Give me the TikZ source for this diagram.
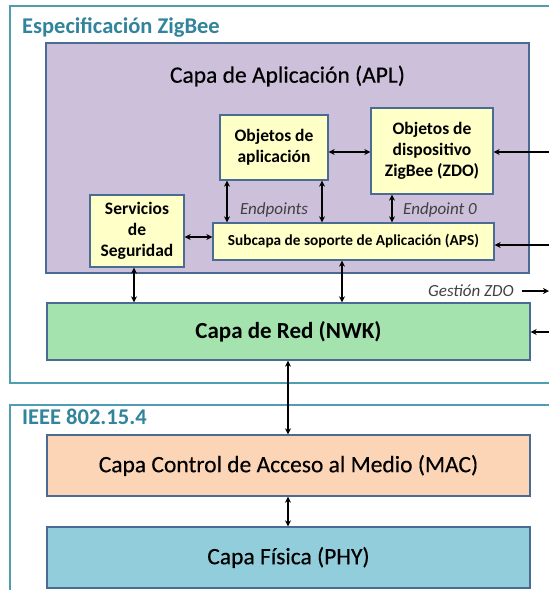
\documentclass[tikz,border=0pt]{standalone}
\usepackage{fontspec}
\setmainfont{Carlito}
\newfontfamily\layerfont{Carlito}[FakeBold=0.35]
\usetikzlibrary{arrows.meta}
\definecolor{frameteal}{HTML}{4E9DB3}
\definecolor{titleteal}{HTML}{31849B}
\definecolor{edge}{HTML}{4A6B94}
\definecolor{aplfill}{HTML}{CCC0DA}
\definecolor{boxfill}{HTML}{FFFFC8}
\definecolor{nwkfill}{HTML}{A5E3AE}
\definecolor{macfill}{HTML}{FBD5B5}
\definecolor{phyfill}{HTML}{92CDDC}
\tikzset{
  layer/.style={draw=edge, line width=1.4pt, minimum width=483pt, inner sep=0pt,
    font=\fontsize{23.5}{28}\selectfont\layerfont},
  subbox/.style={draw=edge, line width=1.3pt, fill=boxfill, inner sep=0pt, align=center,
    font=\fontsize{17.5}{21}\selectfont\bfseries},
  frame/.style={draw=frameteal, line width=1.3pt},
  link/.style={line width=1.5pt, {Stealth[length=6pt,width=6pt]}-{Stealth[length=6pt,width=6pt]}},
  inarrow/.style={line width=1.5pt, -{Stealth[length=6pt,width=6pt]}},
  tag/.style={font=\fontsize{17}{20}\selectfont\itshape, text=black!75, inner sep=0pt},
  heading/.style={font=\fontsize{22.5}{26}\selectfont\bfseries, text=titleteal, inner sep=0pt, anchor=west}
}
\begin{document}
\begin{tikzpicture}[x=1pt,y=-1pt]
\useasboundingbox (0,0) rectangle (549,590);
\begin{scope}
\clip (0,0) rectangle (549,590);
% outer specification frames
\draw[frame] (10,6) rectangle (570,383);
\draw[frame] (10,405) rectangle (570,610);
\node[heading] (zbtitle) at (22,27) {Especificación ZigBee};
\node[heading] (ieeetitle) at (22,417) {IEEE 802.15.4};

% application layer
\node[layer, fill=aplfill, minimum height=230pt] (apl) at (287.5,158) {};
\node[inner sep=0pt, font=\fontsize{23.5}{28}\selectfont\layerfont] (apltitle) at (287.5,76) {Capa de Aplicación (APL)};

\node[subbox, minimum width=108pt, minimum height=65pt] (obj) at (274,147.5) {Objetos de\\aplicación};
\node[subbox, minimum width=122pt, minimum height=86pt] (zdo) at (432,151) {Objetos de\\dispositivo\\ZigBee (ZDO)};
\node[subbox, minimum width=94pt, minimum height=72pt] (sec) at (137,231) {Servicios\\de\\Seguridad};
\node[subbox, minimum width=281pt, minimum height=37pt, font=\fontsize{15.3}{18}\selectfont\bfseries] (aps) at (353.5,241.5) {Subcapa de soporte de Aplicación (APS)};

% network, MAC and physical layers
\node[layer, fill=nwkfill, minimum height=57pt, font=\fontsize{23}{28}\selectfont\bfseries] (nwk) at (288.5,331.5) {Capa de Red (NWK)};
\node[layer, fill=macfill, minimum height=61pt] (mac) at (288.5,465.5) {Capa Control de Acceso al Medio (MAC)};
\node[layer, fill=phyfill, minimum height=61pt] (phy) at (288.5,557.5) {Capa Física (PHY)};

% labels
\node[tag] (eps) at (274,210) {Endpoints};
\node[tag] (ep0) at (440,210) {Endpoint 0};
\node[tag] (gzdo) at (471,291) {Gestión ZDO};

% links inside the application layer
\draw[link] (obj.east |- 0,152) -- (zdo.west |- 0,152);
\draw[link] (obj.south -| 227,0) -- (aps.north -| 227,0);
\draw[link] (obj.south -| 322,0) -- (aps.north -| 322,0);
\draw[link] (zdo.south -| 392,0) -- (aps.north -| 392,0);
\draw[link] (sec.east |- 0,237) -- (aps.west |- 0,237);

% links between layers
\draw[link] (sec.south -| 134,0) -- (nwk.north -| 134,0);
\draw[link] (aps.south -| 342,0) -- (nwk.north -| 342,0);
\draw[link] (nwk.south -| 288,0) -- (mac.north -| 288,0);
\draw[link] (mac.south -| 288,0) -- (phy.north -| 288,0);

% connections from the management side
\coordinate (inzdo) at (551,152);
\coordinate (inaps) at (551,245);
\coordinate (innwk) at (551,332);
\coordinate (outg) at (549,291);
\draw[inarrow] (inzdo) -- (zdo.east |- inzdo);
\draw[inarrow] (inaps) -- (aps.east |- inaps);
\draw[inarrow] (innwk) -- (nwk.east |- innwk);
\draw[inarrow] (gzdo.east) ++(8,0) coordinate (gstart) -- (outg);
\end{scope}
\end{tikzpicture}
\end{document}
